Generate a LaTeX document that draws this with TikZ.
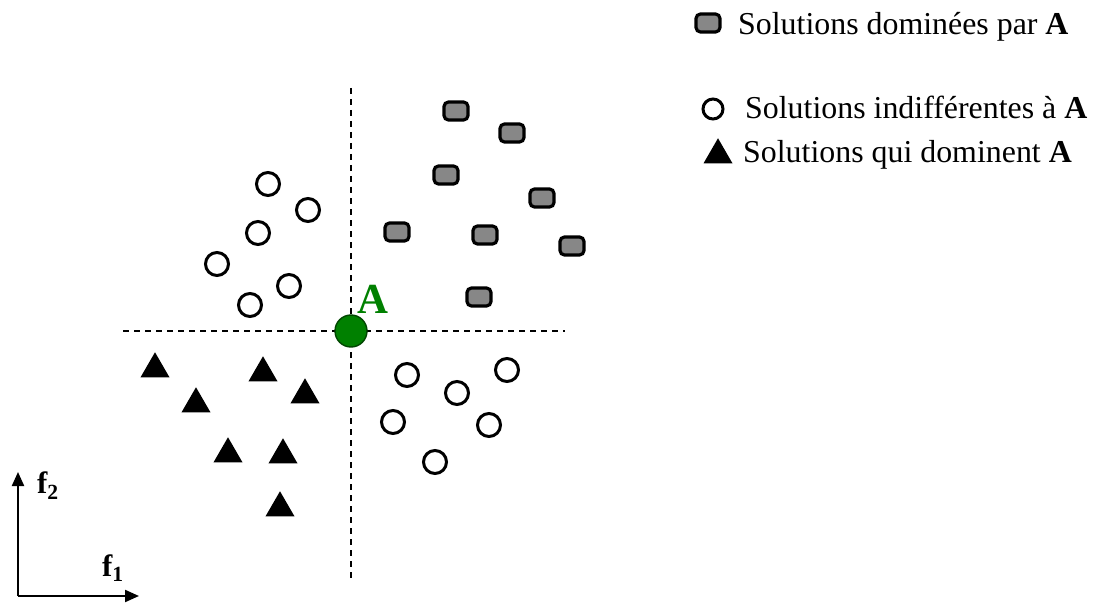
\documentclass[tikz,border=0pt]{standalone}
\usepackage{fontspec}
\setmainfont{Liberation Serif}
\usetikzlibrary{shapes.geometric,arrows.meta}
\definecolor{agreen}{RGB}{0,128,0}
\definecolor{adark}{RGB}{0,70,0}
\definecolor{boxgray}{RGB}{135,135,135}
\tikzset{
  dombox/.style={draw=black,line width=3.2bp,fill=boxgray,rounded corners=4.5bp,
    minimum width=24bp,minimum height=18bp,inner sep=0pt},
  indcirc/.style={draw=black,line width=3bp,fill=white,circle,
    minimum size=23bp,inner sep=0pt},
  domtri/.style={fill=black,regular polygon,regular polygon sides=3,
    minimum size=33.5bp,inner sep=0pt},
  ptA/.style={circle,draw=adark,line width=1.4bp,fill=agreen,minimum size=32bp,inner sep=0pt},
  guide/.style={line width=2.1bp,dash pattern=on 6bp off 5bp},
  axis/.style={line width=2.1bp,-{Triangle[length=14bp,width=12bp]}},
  legtext/.style={anchor=base west,inner sep=0pt,font=\fontsize{32}{38}\selectfont},
  flabel/.style={inner sep=0pt,font=\bfseries\fontsize{31}{36}\selectfont}
}
\begin{document}
\begin{tikzpicture}[x=1bp,y=-1bp]
\useasboundingbox (0,0) rectangle (1094,603);
% guide lines
\coordinate (vt) at (351,88);
\coordinate (vb) at (351,580);
\coordinate (hl) at (123,331);
\coordinate (hr) at (565,331);
\draw[guide] (vt) -- (vb);
\draw[guide] (hl) -- (hr);
% dominated solutions
\node[dombox] (d1) at (456,111) {};
\node[dombox] (d2) at (512,133) {};
\node[dombox] (d3) at (446,175) {};
\node[dombox] (d4) at (542,198) {};
\node[dombox] (d5) at (397,232) {};
\node[dombox] (d6) at (485,235) {};
\node[dombox] (d7) at (572,246) {};
\node[dombox] (d8) at (479,297) {};
% indifferent solutions
\node[indcirc] (c1) at (268,184) {};
\node[indcirc] (c2) at (308,210) {};
\node[indcirc] (c3) at (258,233) {};
\node[indcirc] (c4) at (217,264) {};
\node[indcirc] (c5) at (289,286) {};
\node[indcirc] (c6) at (250,305) {};
\node[indcirc] (c7) at (407,375) {};
\node[indcirc] (c8) at (457,393) {};
\node[indcirc] (c9) at (507,370) {};
\node[indcirc] (c10) at (393,422) {};
\node[indcirc] (c11) at (489,425) {};
\node[indcirc] (c12) at (435,462) {};
% dominating solutions
\node[domtri] (t1) at (155,369) {};
\node[domtri] (t2) at (263,373) {};
\node[domtri] (t3) at (196,404) {};
\node[domtri] (t4) at (305,395) {};
\node[domtri] (t5) at (228,454) {};
\node[domtri] (t6) at (283,455) {};
\node[domtri] (t7) at (280,508) {};
% point A
\node[ptA] (A) at (351,331) {};
\node[inner sep=0pt,text=agreen,font=\bfseries\fontsize{43}{48}\selectfont] (Alab) at (373,299) {A};
% axes
\coordinate (O) at (18,596);
\coordinate (f2end) at (18,472);
\coordinate (f1end) at (139,596);
\draw[axis] (O) -- (f2end);
\draw[axis] (O) -- (f1end);
\node[flabel] (f2) at (48,486) {f\textsubscript{2}};
\node[flabel] (f1) at (113,568) {f\textsubscript{1}};
% legend
\node[dombox] (l1) at (708,23) {};
\node[legtext] (lt1) at (738,35) {Solutions dominées par \textbf{A}};
\node[indcirc,minimum size=20bp] (l2) at (713,109) {};
\node[legtext] (lt2) at (745,119) {Solutions indifférentes à \textbf{A}};
\node[domtri] (l3) at (718,155) {};
\node[legtext] (lt3) at (743,163) {Solutions qui dominent \textbf{A}};
\end{tikzpicture}
\end{document}
